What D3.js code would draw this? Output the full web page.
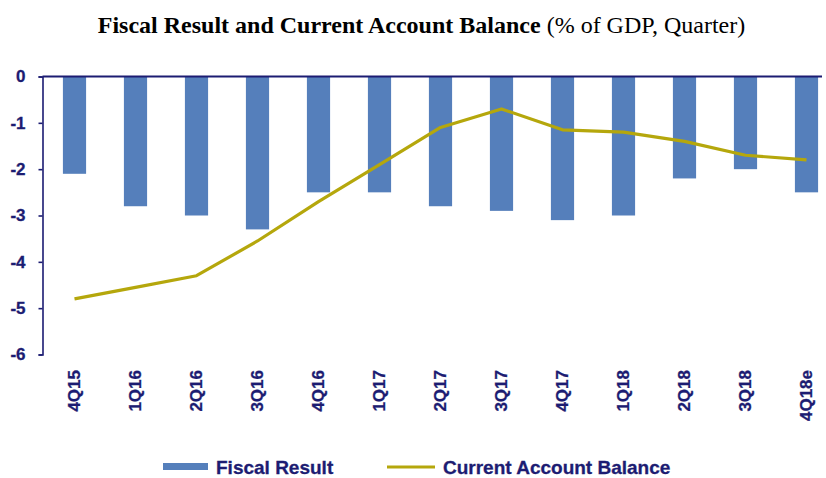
<!DOCTYPE html>
<html>
<head>
<meta charset="utf-8">
<script src="https://cdn.jsdelivr.net/npm/d3@7"></script>
<style>
  html, body { margin: 0; padding: 0; background: #ffffff; }
  svg { display: block; }
</style>
</head>
<body>
<svg id="chart" width="826" height="478"></svg>
<script>
// Quarterly fiscal result and current account balance, % of GDP
const quarters = ["4Q15", "1Q16", "2Q16", "3Q16", "4Q16", "1Q17", "2Q17", "3Q17", "4Q17", "1Q18", "2Q18", "3Q18", "4Q18e"];
const fiscalResult = [-2.1, -2.8, -3.0, -3.3, -2.5, -2.5, -2.8, -2.9, -3.1, -3.0, -2.2, -2.0, -2.5];
const currentAccount = [-4.8, -4.55, -4.3, -3.55, -2.7, -1.9, -1.1, -0.7, -1.15, -1.2, -1.4, -1.7, -1.8];
const yTicks = [0, -1, -2, -3, -4, -5, -6];

const navy = "#1c1c72";
const barColor = "#557fbb";
const lineColor = "#b5a70c";
const labelFont = "'Liberation Sans', Arial, sans-serif";

const svg = d3.select("#chart");

const x = d3.scaleBand()
  .domain(quarters)
  .range([44, 837])
  .paddingInner(0.62)
  .paddingOuter(0.31);

const y = d3.scaleLinear()
  .domain([-6, 0])
  .range([354.5, 76.5]);

// Title: bold lead, regular qualifier
const title = svg.append("text")
  .attr("x", 421.5)
  .attr("y", 33)
  .attr("text-anchor", "middle")
  .attr("font-family", "'Liberation Serif', 'Times New Roman', serif")
  .attr("font-size", 24)
  .attr("fill", "#000");
title.append("tspan").attr("font-weight", "bold").text("Fiscal Result and Current Account Balance");
title.append("tspan").text(" (% of GDP, Quarter)");

// Bars
svg.append("g")
  .selectAll("rect")
  .data(quarters.map((q, i) => ({ q, v: fiscalResult[i] })))
  .join("rect")
  .attr("x", d => x(d.q))
  .attr("width", x.bandwidth())
  .attr("y", y(0))
  .attr("height", d => y(d.v) - y(0))
  .attr("fill", barColor);

// Current account line
const line = d3.line()
  .x((d, i) => x(quarters[i]) + x.bandwidth() / 2)
  .y(d => y(d));

svg.append("path")
  .datum(currentAccount)
  .attr("d", line)
  .attr("fill", "none")
  .attr("stroke", lineColor)
  .attr("stroke-width", 3.2)
  .attr("stroke-linejoin", "round");

// Y axis
const yAxis = svg.append("g")
  .attr("transform", "translate(42.5,0)")
  .call(d3.axisLeft(y).tickValues(yTicks).tickSize(4).tickPadding(13).tickFormat(d => String(d)));
yAxis.select(".domain").attr("stroke", navy).attr("stroke-width", 1.6);
yAxis.selectAll(".tick line").attr("stroke", navy).attr("stroke-width", 1.6);
yAxis.selectAll(".tick text")
  .attr("fill", navy)
  .attr("stroke", navy)
  .attr("stroke-width", 0.3)
  .attr("font-family", labelFont)
  .attr("font-weight", "bold")
  .attr("font-size", 17);

// Zero line across the top
svg.append("line")
  .attr("x1", 42.5).attr("x2", 822)
  .attr("y1", y(0)).attr("y2", y(0))
  .attr("stroke", navy)
  .attr("stroke-width", 2);

// X axis labels, rotated
const xAxis = svg.append("g")
  .attr("transform", "translate(0,364)")
  .call(d3.axisBottom(x).tickSize(0).tickPadding(0));
xAxis.select(".domain").remove();
xAxis.selectAll(".tick text")
  .attr("fill", navy)
  .attr("stroke", navy)
  .attr("stroke-width", 0.3)
  .attr("font-family", labelFont)
  .attr("font-weight", "bold")
  .attr("font-size", 17)
  .attr("text-anchor", "end")
  .attr("dy", null)
  .attr("y", 0)
  .attr("x", -6)
  .attr("dominant-baseline", "central")
  .attr("transform", "rotate(-90)");

// Legend
const legend = svg.append("g");
legend.append("rect")
  .attr("x", 163).attr("y", 463)
  .attr("width", 45).attr("height", 7)
  .attr("fill", barColor);
legend.append("text")
  .attr("x", 216).attr("y", 474)
  .attr("fill", navy)
  .attr("stroke", navy)
  .attr("stroke-width", 0.3)
  .attr("font-family", labelFont)
  .attr("font-weight", "bold")
  .attr("font-size", 19)
  .text("Fiscal Result");
legend.append("line")
  .attr("x1", 387).attr("x2", 435)
  .attr("y1", 467).attr("y2", 467)
  .attr("stroke", lineColor)
  .attr("stroke-width", 3.2);
legend.append("text")
  .attr("x", 443).attr("y", 474)
  .attr("fill", navy)
  .attr("stroke", navy)
  .attr("stroke-width", 0.3)
  .attr("font-family", labelFont)
  .attr("font-weight", "bold")
  .attr("font-size", 19)
  .text("Current Account Balance");
</script>
</body>
</html>
